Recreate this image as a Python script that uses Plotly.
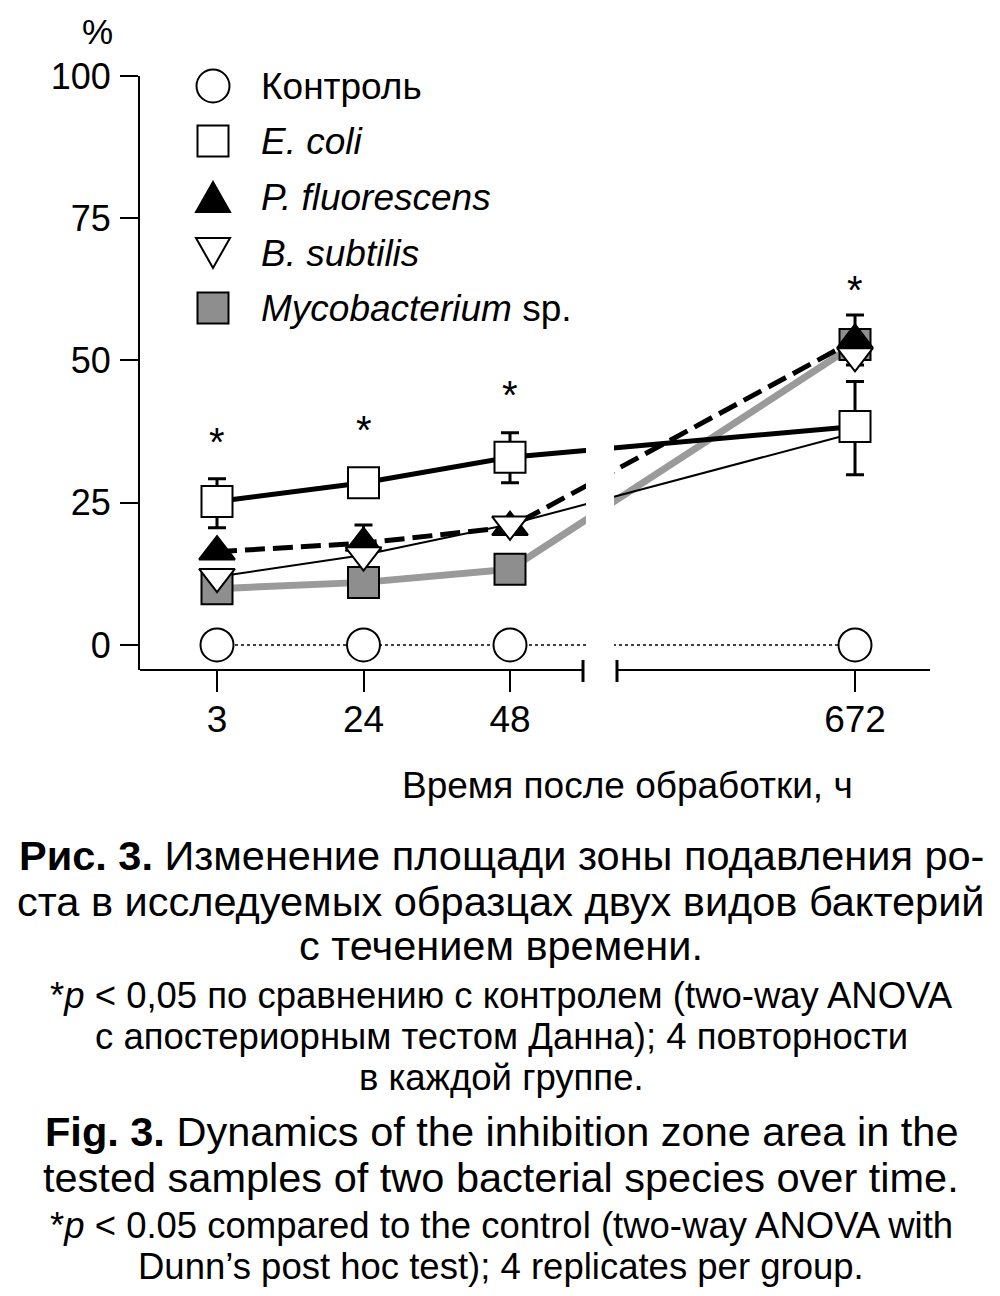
import plotly.graph_objects as go

# ---------------- data ----------------
hours = ["3", "24", "48", "672"]
x_positions = [0, 1, 2, 4.355]          # broken time axis: layout position of each time point
control = [0, 0, 0, 0]
e_coli = [25.2, 28.5, 33.0, 38.4]
e_coli_err_plus = [4.0, 0, 4.3, 7.9]
e_coli_err_minus = [4.6, 0, 4.5, 8.5]
p_fluor = [16.4, 17.9, 20.7, 53.6]
p_fluor_err_plus = [0, 3.2, 0, 4.4]
p_fluor_err_minus = [0, 0, 0, 4.4]
b_subtilis = [12.0, 15.8, 21.2, 50.8]
b_subtilis_line_end = 37.3               # where the thin connecting line ends at 672 h
myco = [9.9, 11.0, 13.3, 52.8]
star_y = [36.6, 38.7, 44.8, 63.3]
y_ticks = [0, 25, 50, 75, 100]

legend_names = ["Контроль", "<i>E. coli</i>", "<i>P. fluorescens</i>",
                "<i>B. subtilis</i>", "<i>Mycobacterium</i> sp."]

# ---------------- geometry (page pixels; page body has an 8 px margin) ----------------
OFF = 8
W, H = 1000 - OFF, 1296 - OFF
RL, RR, RT, RB = 140, 930, 76, 670        # plot area in page pixels
PL, PR, PT, PB = RL - OFF, RR - OFF, RT - OFF, RB - OFF
X0PX = 217
X_UNIT = 146.5
x_range = [(RL - X0PX) / X_UNIT, (RR - X0PX) / X_UNIT]
y_range = [-4.4, 100]
FONT = "Liberation Sans, Arial, Helvetica, sans-serif"
GRAY_FILL = "#8e8e8e"
GRAY_LINE = "#9a9a9a"


def px2x(px):
    return (px - RL) / (RR - RL)


def py2y(py):
    return (RB - py) / (RB - RT)


def xdata(px):
    return (px - X0PX) / X_UNIT


fig = go.Figure()

# ---------- connecting lines ----------
fig.add_trace(go.Scatter(x=x_positions, y=myco, mode="lines",
                         line=dict(color=GRAY_LINE, width=7), showlegend=False))
fig.add_trace(go.Scatter(x=x_positions, y=b_subtilis[:3] + [b_subtilis_line_end], mode="lines",
                         line=dict(color="black", width=2), showlegend=False))
fig.add_trace(go.Scatter(x=x_positions, y=p_fluor, mode="lines",
                         line=dict(color="black", width=5, dash="20px,8px"), showlegend=False))
fig.add_trace(go.Scatter(x=x_positions, y=e_coli, mode="lines",
                         line=dict(color="black", width=5), showlegend=False))
fig.add_trace(go.Scatter(x=x_positions, y=control, mode="lines",
                         line=dict(color="black", width=1.5, dash="dot"), showlegend=False))

# ---------- markers ----------
mline = dict(color="black", width=2)
fig.add_trace(go.Scatter(x=x_positions, y=myco, mode="markers",
                         marker=dict(symbol="square", size=31, color=GRAY_FILL, line=mline),
                         showlegend=False))
fig.add_trace(go.Scatter(x=x_positions, y=p_fluor, mode="markers",
                         marker=dict(symbol="triangle-up", size=31, color="black", line=mline),
                         error_y=dict(type="data", array=p_fluor_err_plus, arrayminus=p_fluor_err_minus,
                                      color="black", thickness=3, width=9),
                         showlegend=False))
fig.add_trace(go.Scatter(x=x_positions, y=b_subtilis, mode="markers",
                         marker=dict(symbol="triangle-down", size=31, color="white", line=mline),
                         showlegend=False))
fig.add_trace(go.Scatter(x=x_positions, y=e_coli, mode="markers",
                         marker=dict(symbol="square", size=31, color="white", line=mline),
                         error_y=dict(type="data", array=e_coli_err_plus, arrayminus=e_coli_err_minus,
                                      color="black", thickness=3, width=9),
                         showlegend=False))
fig.add_trace(go.Scatter(x=x_positions, y=control, mode="markers",
                         marker=dict(symbol="circle", size=33, color="white", line=mline),
                         showlegend=False))

shapes = []
# axis break: white band hiding the lines
shapes.append(dict(type="rect", xref="x", yref="y", x0=xdata(586), x1=xdata(614),
                   y0=-2.6, y1=42.0, fillcolor="white", line=dict(width=0), layer="above"))
# broken x-axis line
shapes.append(dict(type="line", xref="x", yref="paper", x0=x_range[0], x1=xdata(583),
                   y0=0, y1=0, line=dict(color="black", width=2)))
shapes.append(dict(type="line", xref="x", yref="paper", x0=xdata(617), x1=x_range[1],
                   y0=0, y1=0, line=dict(color="black", width=2)))
for bx in (583, 617):
    shapes.append(dict(type="line", xref="x", yref="paper", x0=xdata(bx), x1=xdata(bx),
                       y0=py2y(682), y1=py2y(660), line=dict(color="black", width=3)))

# legend keys
leg_x = px2x(213)
leg_rows = [86, 141, 197, 253, 308]
kl = dict(color="black", width=2)
base = dict(xref="paper", yref="paper", xsizemode="pixel", ysizemode="pixel", layer="above")
shapes.append(dict(type="circle", xanchor=leg_x, yanchor=py2y(leg_rows[0]),
                   x0=-16.5, x1=16.5, y0=-16.5, y1=16.5, fillcolor="white", line=kl, **base))
shapes.append(dict(type="rect", xanchor=leg_x, yanchor=py2y(leg_rows[1]),
                   x0=-15.5, x1=15.5, y0=-15.5, y1=15.5, fillcolor="white", line=kl, **base))
shapes.append(dict(type="path", xanchor=leg_x, yanchor=py2y(leg_rows[2]),
                   path="M-17,-15 L17,-15 L0,15 Z", fillcolor="black", line=kl, **base))
shapes.append(dict(type="path", xanchor=leg_x, yanchor=py2y(leg_rows[3]),
                   path="M-17,15 L17,15 L0,-15 Z", fillcolor="white", line=kl, **base))
shapes.append(dict(type="rect", xanchor=leg_x, yanchor=py2y(leg_rows[4]),
                   x0=-15.5, x1=15.5, y0=-15.5, y1=15.5, fillcolor=GRAY_FILL, line=kl, **base))

annotations = []
for name, ry in zip(legend_names, leg_rows):
    annotations.append(dict(xref="paper", yref="paper", x=px2x(259), y=py2y(ry),
                            xanchor="left", yanchor="middle", text=name, showarrow=False,
                            font=dict(size=37, color="black", family=FONT)))

# significance stars
for xp, sy in zip(x_positions, star_y):
    annotations.append(dict(xref="x", yref="y", x=xp, y=sy, text="*", showarrow=False,
                            yanchor="middle", yshift=-5,
                            font=dict(size=40, color="black", family=FONT)))

# axis titles
annotations.append(dict(xref="paper", yref="paper", x=px2x(97), y=py2y(32), text="%",
                        showarrow=False, xanchor="center", yanchor="middle",
                        font=dict(size=35, color="black", family=FONT)))
annotations.append(dict(xref="paper", yref="paper", x=px2x(627), y=py2y(785),
                        text="Время после обработки, ч", showarrow=False,
                        xanchor="center", yanchor="middle",
                        font=dict(size=37, color="black", family=FONT)))

# caption
BIG, SMALL = 41.5, 36.5
caption = [
    ("<b>Рис. 3.</b> Изменение площади зоны подавления ро-", 855, BIG),
    ("ста в исследуемых образцах двух видов бактерий", 901, BIG),
    ("с течением времени.", 946, BIG),
    ("*<i>p</i> &lt; 0,05 по сравнению с контролем (two-way ANOVA", 995, SMALL),
    ("с апостериорным тестом Данна); 4 повторности", 1036, SMALL),
    ("в каждой группе.", 1077, SMALL),
    ("<b>Fig. 3.</b> Dynamics of the inhibition zone area in the", 1131, BIG),
    ("tested samples of two bacterial species over time.", 1177, BIG),
    ("*<i>p</i> &lt; 0.05 compared to the control (two-way ANOVA with", 1225, SMALL),
    ("Dunn’s post hoc test); 4 replicates per group.", 1266, SMALL),
]
for txt, cy, fs in caption:
    annotations.append(dict(xref="paper", yref="paper", x=px2x(501), y=py2y(cy), text=txt,
                            showarrow=False, xanchor="center", yanchor="middle",
                            font=dict(size=fs, color="black", family=FONT)))

fig.update_layout(
    width=W, height=H,
    margin=dict(l=PL, r=W - PR, t=PT, b=H - PB, pad=0),
    paper_bgcolor="white", plot_bgcolor="white",
    showlegend=False,
    font=dict(family=FONT, color="black"),
    shapes=shapes, annotations=annotations,
    xaxis=dict(range=x_range, tickvals=x_positions, ticktext=hours, showgrid=False,
               zeroline=False, showline=False, ticks="outside", ticklen=21, tickwidth=2,
               tickcolor="black", tickfont=dict(size=37, family=FONT, color="black"),
               ticklabelstandoff=-4),
    yaxis=dict(range=y_range, tickvals=y_ticks, showgrid=False, zeroline=False,
               showline=True, linecolor="black", linewidth=2, ticks="outside", ticklen=18,
               tickwidth=2, tickcolor="black",
               tickfont=dict(size=36, family=FONT, color="black"), ticklabelstandoff=2),
)

fig.write_html("out.html")
